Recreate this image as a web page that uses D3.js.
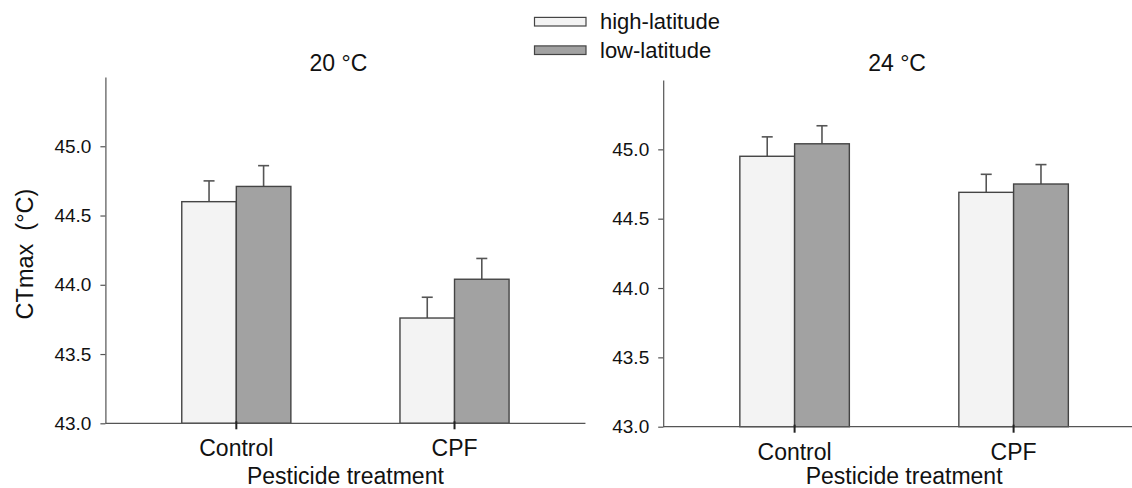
<!DOCTYPE html>
<html lang="en">
<head>
    <meta charset="UTF-8">
    <title>CTmax by pesticide treatment</title>
    <script src="https://cdnjs.cloudflare.com/ajax/libs/d3/7.8.5/d3.min.js"></script>
    <style>
        body { margin: 0; background: #fff; }
        svg { display: block; }
        text { font-family: "Liberation Sans", Arial, sans-serif; fill: #111; }
    </style>
</head>
<body>
    <script>
        // data
        const treatments = ["Control", "CPF"];
        const populations = ["high-latitude", "low-latitude"];
        const panelTitles = ["20 °C", "24 °C"];
        // means per panel, [Control, CPF] for each population
        const high20 = [44.60, 43.76];
        const low20 = [44.71, 44.04];
        const high24 = [44.95, 44.69];
        const low24 = [45.04, 44.75];
        // upper error bar ends
        const highErr20 = [44.75, 43.91];
        const lowErr20 = [44.86, 44.19];
        const highErr24 = [45.09, 44.82];
        const lowErr24 = [45.17, 44.89];
        const yTicks = [43.0, 43.5, 44.0, 44.5, 45.0];

        const colors = { "high-latitude": "#f3f3f3", "low-latitude": "#a2a2a2" };

        const width = 1132, height = 488;
        const svg = d3.select("body").append("svg")
            .attr("width", width).attr("height", height);

        const panels = [
            { title: panelTitles[0], high: high20, low: low20, highErr: highErr20, lowErr: lowErr20,
              x0: 105.4, unit: 218.2, yBottom: 423.3, yTop: 77, showYLabel: true },
            { title: panelTitles[1], high: high24, low: low24, highErr: highErr24, lowErr: lowErr24,
              x0: 663.2, unit: 219, yBottom: 426.7, yTop: 80, showYLabel: false }
        ];

        // category positions along a linear axis 0..2.2
        const catPos = [0.6, 1.6];
        const barW = 0.25;

        panels.forEach(p => {
            const x = d3.scaleLinear().domain([0, 2.2]).range([p.x0, p.x0 + 2.2 * p.unit]);
            const y = d3.scaleLinear().domain([43, 45.5]).range([p.yBottom, p.yTop]);
            const g = svg.append("g");

            // bars
            const rows = [];
            treatments.forEach((t, i) => {
                rows.push({ pop: populations[0], i, v: p.high[i], e: p.highErr[i], off: -barW });
                rows.push({ pop: populations[1], i, v: p.low[i], e: p.lowErr[i], off: 0 });
            });

            // error bars (behind bars)
            rows.forEach(d => {
                const cx = x(catPos[d.i] + d.off + barW / 2);
                g.append("line")
                    .attr("x1", cx).attr("x2", cx)
                    .attr("y1", y(d.v)).attr("y2", y(d.e))
                    .attr("stroke", "#555").attr("stroke-width", 1.6);
                g.append("line")
                    .attr("x1", cx - 5.5).attr("x2", cx + 5.5)
                    .attr("y1", y(d.e)).attr("y2", y(d.e))
                    .attr("stroke", "#555").attr("stroke-width", 1.6);
            });

            g.selectAll("rect.bar")
                .data(rows)
                .enter()
                .append("rect")
                .attr("class", "bar")
                .attr("x", d => x(catPos[d.i] + d.off))
                .attr("width", x(barW) - x(0))
                .attr("y", d => y(d.v))
                .attr("height", d => y(43) - y(d.v))
                .attr("fill", d => colors[d.pop])
                .attr("stroke", "#444")
                .attr("stroke-width", 1.4);

            // x axis
            g.append("line")
                .attr("x1", x(0)).attr("x2", x(2.2))
                .attr("y1", y(43)).attr("y2", y(43))
                .attr("stroke", "#555").attr("stroke-width", 1.2);
            catPos.forEach((c, i) => {
                g.append("line")
                    .attr("x1", x(c)).attr("x2", x(c))
                    .attr("y1", y(43) - 2).attr("y2", y(43) + 6)
                    .attr("stroke", "#222").attr("stroke-width", 2);
                g.append("text")
                    .attr("x", x(c)).attr("y", y(43) + 33)
                    .attr("text-anchor", "middle")
                    .attr("font-size", 23)
                    .text(treatments[i]);
            });
            g.append("text")
                .attr("x", x(1.1)).attr("y", Math.min(y(43) + 62, 484))
                .attr("text-anchor", "middle")
                .attr("font-size", 23)
                .text("Pesticide treatment");

            // y axis
            const yAxis = d3.axisLeft(y)
                .tickValues(yTicks)
                .tickFormat(d3.format(".1f"))
                .tickSizeInner(5)
                .tickSizeOuter(0)
                .tickPadding(9);
            const ya = g.append("g")
                .attr("transform", `translate(${p.x0},0)`)
                .call(yAxis);
            ya.select(".domain").attr("stroke", "#555").attr("stroke-width", 1.2);
            ya.selectAll(".tick line").attr("stroke", "#555").attr("stroke-width", 1.2);
            ya.selectAll(".tick text")
                .attr("font-size", 19)
                .attr("font-family", "Liberation Sans, Arial, sans-serif")
                .attr("fill", "#111");

            // panel title
            g.append("text")
                .attr("x", x(1.1) - 7).attr("y", 71)
                .attr("text-anchor", "middle")
                .attr("font-size", 23)
                .text(p.title);

            if (p.showYLabel) {
                g.append("text")
                    .attr("transform", `translate(33,254) rotate(-90)`)
                    .attr("text-anchor", "middle")
                    .attr("font-size", 23.5)
                    .text("CTmax\u00a0\u00a0(°C)");
            }
        });

        // legend
        const legend = svg.append("g");
        populations.forEach((pop, i) => {
            const cy = 21.7 + i * 28.5;
            legend.append("rect")
                .attr("x", 534.5).attr("y", cy - 4.3)
                .attr("width", 51.5).attr("height", 8.6)
                .attr("fill", colors[pop])
                .attr("stroke", "#444").attr("stroke-width", 1.2);
            legend.append("text")
                .attr("x", 600).attr("y", cy + 7.5)
                .attr("font-size", 22)
                .text(pop);
        });
    </script>
</body>
</html>
